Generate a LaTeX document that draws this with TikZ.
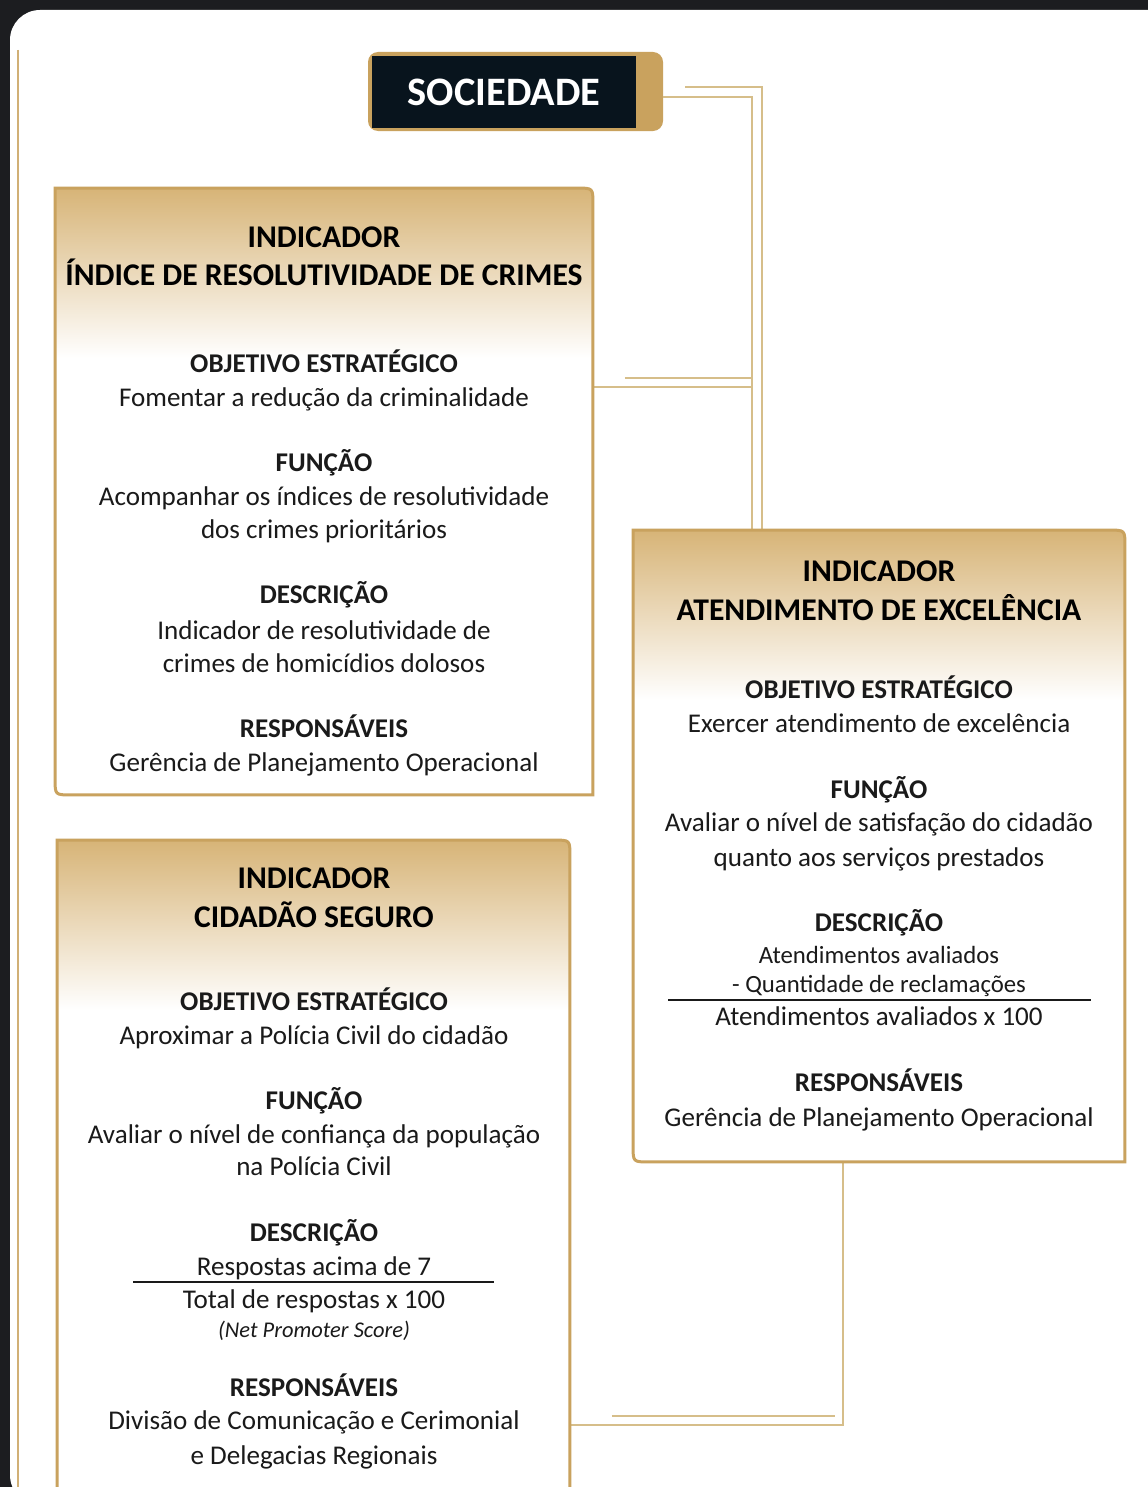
\documentclass[tikz,border=0pt]{standalone}
\usepackage{fontspec}
\setmainfont{Carlito}
\usetikzlibrary{calc}

\definecolor{pagedark}{HTML}{1C1D20}
\definecolor{navy}{HTML}{08141D}
\definecolor{gold}{HTML}{C9A25E}
\definecolor{tan}{HTML}{D7B477}
\definecolor{linkgold}{HTML}{D6BE8A}
\definecolor{ink}{HTML}{1A1A1A}

\tikzset{
  box/.style={inner sep=0pt, outer sep=0pt},
  socbox/.style={fill=navy, text=white, inner sep=0pt, minimum width=5.28cm, minimum height=1.44cm, font=\fontsize{23}{27}\selectfont\bfseries},
  cardline/.style={draw=gold, line width=0.06cm},
  link/.style={draw=linkgold, line width=0.05cm},
  head/.style={anchor=base, text=black, font=\fontsize{18}{22}\selectfont\bfseries},
  sect/.style={anchor=base, text=ink, font=\fontsize{15.4}{18}\selectfont\bfseries},
  body/.style={anchor=base, text=ink, font=\fontsize{15.4}{18}\selectfont},
  small/.style={anchor=base, text=ink, font=\fontsize{14.1}{17}\selectfont},
  note/.style={anchor=base, text=ink, font=\fontsize{12.8}{15}\selectfont\itshape},
  rule/.style={draw=ink, line width=0.04cm},
}

% card with square top-left / bottom-right corners, round others
\newcommand{\goldcard}[1]{%
  \begin{scope}
    \clip (#1.north west) -- ($(#1.north east)+(-16,0)$) .. controls (#1.north east) .. ($(#1.north east)+(0,16)$)
      -- (#1.south east) -- ($(#1.south west)+(16,0)$) .. controls (#1.south west) .. ($(#1.south west)+(0,-16)$) -- cycle;
    \fill[white] (#1.north west) rectangle (#1.south east);
    \shade[top color=tan, bottom color=white] (#1.north west) rectangle ($(#1.north east)+(0,170)$);
  \end{scope}
  \draw[cardline] (#1.north west) -- ($(#1.north east)+(-16,0)$) .. controls (#1.north east) .. ($(#1.north east)+(0,16)$)
      -- (#1.south east) -- ($(#1.south west)+(16,0)$) .. controls (#1.south west) .. ($(#1.south west)+(0,-16)$) -- cycle;
}

\begin{document}
\begin{tikzpicture}[x=0.02cm, y=-0.02cm]
		\clip (0,0) rectangle (1148,1487);
		\fill[pagedark] (0,0) rectangle (1148,1487);
		\fill[white, rounded corners=0.6cm] (10,10) rectangle (1190,1505);
		\draw[gold!85, line width=0.06cm] (18,50) -- (18,1487);

		% boxes
		\node[box, minimum width=10.76cm, minimum height=12.14cm] (crimes) at (324,491.5) {};
		\node[box, minimum width=9.84cm, minimum height=12.64cm] (atend) at (879,846) {};
		\node[box, minimum width=10.26cm, minimum height=13.2cm] (cidadao) at (313.5,1170) {};

		% connectors
		\coordinate (jin) at ([xshift=-2.54cm]atend.north);
		\coordinate (jout) at ([xshift=-2.34cm]atend.north);
		\coordinate (c1) at ([yshift=2.09cm]crimes.east);
		\coordinate (c2) at ([xshift=0.64cm,yshift=2.27cm]crimes.east);
		\coordinate (c3) at ([yshift=-5.1cm]cidadao.east);
		\coordinate (c4) at ([xshift=0.84cm,yshift=-4.92cm]cidadao.east);
		\draw[link] (c1) -- (c1 -| jin);
		\draw[link] (c2) -- (c2 -| jin);
		\draw[link] ([xshift=-0.72cm]atend.south) |- (c3);
		\draw[link] (c4) -- ++(4.46cm,0);

		% sociedade
		\fill[gold, rounded corners=0.2cm] (368,52) rectangle (663,131);
		\node[socbox] (soc) at (504,92) {SOCIEDADE};
		\draw[link] ([xshift=0.54cm,yshift=-0.1cm]soc.east) -| (jin);
		\draw[link] ([xshift=0.98cm,yshift=0.1cm]soc.east) -| (jout);

		\goldcard{crimes}
		\goldcard{atend}
		\goldcard{cidadao}

		% indicador 1
		\node[head] (i1a) at (324,247) {INDICADOR};
		\node[head] (i1b) at (324,285) {ÍNDICE DE RESOLUTIVIDADE DE CRIMES};
		\node[sect] (i1c) at (324,372) {OBJETIVO ESTRATÉGICO};
		\node[body] (i1d) at (324,406) {Fomentar a redução da criminalidade};
		\node[sect] (i1e) at (324,471) {FUNÇÃO};
		\node[body] (i1f) at (324,505) {Acompanhar os índices de resolutividade};
		\node[body] (i1g) at (324,538) {dos crimes prioritários};
		\node[sect] (i1h) at (324,603) {DESCRIÇÃO};
		\node[body] (i1i) at (324,639) {Indicador de resolutividade de};
		\node[body] (i1j) at (324,672) {crimes de homicídios dolosos};
		\node[sect] (i1k) at (324,737) {RESPONSÁVEIS};
		\node[body] (i1l) at (324,771) {Gerência de Planejamento Operacional};

		% indicador 2
		\node[head] (i2a) at (879,581) {INDICADOR};
		\node[head] (i2b) at (879,620) {ATENDIMENTO DE EXCELÊNCIA};
		\node[sect] (i2c) at (879,698) {OBJETIVO ESTRATÉGICO};
		\node[body] (i2d) at (879,732) {Exercer atendimento de excelência};
		\node[sect] (i2e) at (879,798) {FUNÇÃO};
		\node[body] (i2f) at (879,831) {Avaliar o nível de satisfação do cidadão};
		\node[body] (i2g) at (879,866) {quanto aos serviços prestados};
		\node[sect] (i2h) at (879,931) {DESCRIÇÃO};
		\node[small] (i2i) at (879,963) {Atendimentos avaliados};
		\node[small] (i2j) at (879,992) {- Quantidade de reclamações};
		\draw[rule] (668,1000) -- (1091,1000);
		\node[body] (i2k) at (879,1025) {Atendimentos avaliados x 100};
		\node[sect] (i2l) at (879,1091) {RESPONSÁVEIS};
		\node[body] (i2m) at (879,1126) {Gerência de Planejamento Operacional};

		% indicador 3
		\node[head] (i3a) at (314,888) {INDICADOR};
		\node[head] (i3b) at (314,927) {CIDADÃO SEGURO};
		\node[sect] (i3c) at (314,1010) {OBJETIVO ESTRATÉGICO};
		\node[body] (i3d) at (314,1044) {Aproximar a Polícia Civil do cidadão};
		\node[sect] (i3e) at (314,1109) {FUNÇÃO};
		\node[body] (i3f) at (314,1143) {Avaliar o nível de confiança da população};
		\node[body] (i3g) at (314,1175) {na Polícia Civil};
		\node[sect] (i3h) at (314,1241) {DESCRIÇÃO};
		\node[body] (i3i) at (314,1275) {Respostas acima de 7};
		\draw[rule] (133,1282) -- (494,1282);
		\node[body] (i3j) at (314,1308) {Total de respostas x 100};
		\node[note] (i3k) at (314,1337) {(Net Promoter Score)};
		\node[sect] (i3l) at (314,1396) {RESPONSÁVEIS};
		\node[body] (i3m) at (314,1429) {Divisão de Comunicação e Cerimonial};
		\node[body] (i3n) at (314,1464) {e Delegacias Regionais};
\end{tikzpicture}
\end{document}
